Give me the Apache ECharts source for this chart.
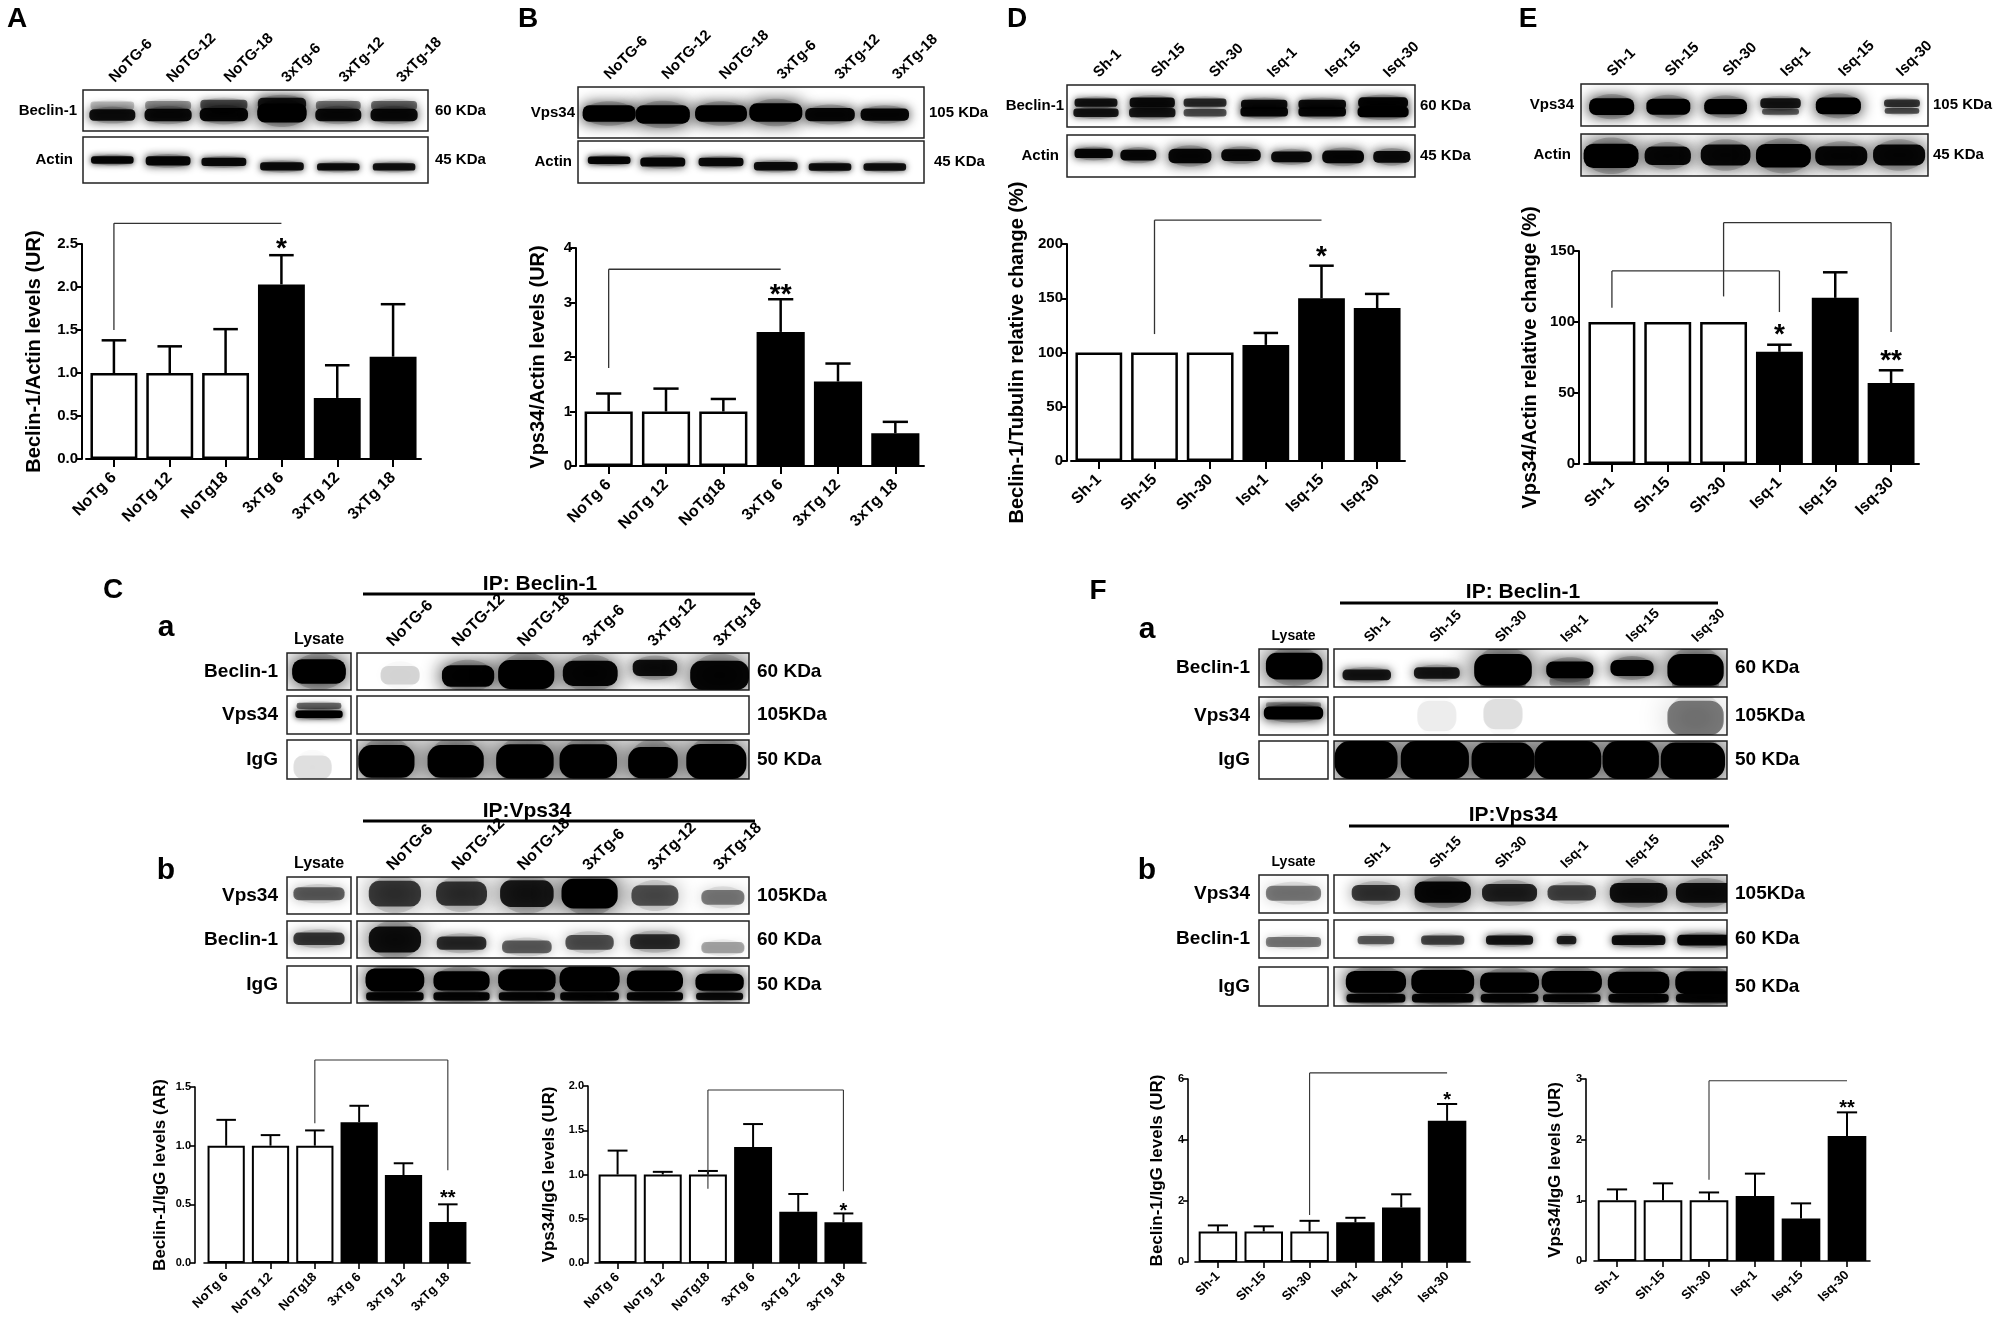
<!DOCTYPE html>
<html>
<head>
<meta charset="utf-8">
<title>Beclin-1 / Vps34</title>
<script src="https://cdn.jsdelivr.net/npm/echarts@6.0.0/dist/echarts.min.js"></script>
<style>
html, body { margin: 0; padding: 0; background: #fff; }
#main { width: 2000px; height: 1327px; }
</style>
</head>
<body>
<div id="main"></div>
<script>
var FONT = "'Liberation Sans', Arial, Helvetica, sans-serif";

// lane / category names
var tgLanes = ['NoTG-6', 'NoTG-12', 'NoTG-18', '3xTg-6', '3xTg-12', '3xTg-18'];
var tgCats = ['NoTg 6', 'NoTg 12', 'NoTg18', '3xTg 6', '3xTg 12', '3xTg 18'];
var isqLanes = ['Sh-1', 'Sh-15', 'Sh-30', 'Isq-1', 'Isq-15', 'Isq-30'];
var isqCats = ['Sh-1', 'Sh-15', 'Sh-30', 'Isq-1', 'Isq-15', 'Isq-30'];
var groupOf = [0, 0, 0, 1, 1, 1];   // 0 = control (white), 1 = treated (black)

// A  Beclin-1/Actin
var beclinActinMean = [1.00, 1.00, 1.00, 2.03, 0.71, 1.19];
var beclinActinSem  = [0.38, 0.31, 0.51, 0.34, 0.38, 0.61];
// B  Vps34/Actin
var vpsActinMean = [1.00, 1.00, 1.00, 2.46, 1.55, 0.60];
var vpsActinSem  = [0.33, 0.42, 0.23, 0.60, 0.33, 0.21];
// D  Beclin-1/Tubulin (%)
var beclinTubMean = [100, 100, 100, 107, 150, 141];
var beclinTubSem  = [0, 0, 0, 11, 30, 13];
// E  Vps34/Actin (%)
var vpsActinPctMean = [100, 100, 100, 79, 117, 57];
var vpsActinPctSem  = [0, 0, 0, 5, 18, 9];
// C bottom
var beclinIgGTgMean = [1.00, 1.00, 1.00, 1.20, 0.75, 0.35];
var beclinIgGTgSem  = [0.22, 0.09, 0.13, 0.14, 0.10, 0.15];
var vpsIgGTgMean = [1.00, 1.00, 1.00, 1.31, 0.58, 0.46];
var vpsIgGTgSem  = [0.27, 0.03, 0.04, 0.26, 0.20, 0.10];
// F bottom
var beclinIgGIsqMean = [1.00, 1.00, 1.00, 1.30, 1.79, 4.63];
var beclinIgGIsqSem  = [0.20, 0.17, 0.35, 0.15, 0.43, 0.55];
var vpsIgGIsqMean = [1.00, 1.00, 1.00, 1.07, 0.70, 2.06];
var vpsIgGIsqSem  = [0.18, 0.28, 0.13, 0.37, 0.25, 0.39];

// y axis ticks: [min, max, interval]
var axisA = [0, 2.5, 0.5], axisB = [0, 4, 1], axisD = [0, 200, 50], axisE = [0, 150, 50];
var axisCl = [0, 1.5, 0.5], axisCr = [0, 2, 0.5], axisFl = [0, 6, 2], axisFr = [0, 3, 1];

// significance brackets: [fromCat, toCat, topValue, leftLegEnd, rightLegEnd (-1 = none)]
var bracketsA = [[0, 3, 2.74, 1.50, -1]];
var bracketsB = [[0, 3, 3.61, 1.80, -1]];
var bracketsD = [[1, 4, 222, 117, -1]];
var bracketsE = [[0, 3, 136, 110, 107], [2, 5, 170, 118, 93]];
var bracketsCl = [[2, 5, 1.73, 1.19, 0.79]];
var bracketsCr = [[2, 5, 1.955, 0.84, 0.81]];
var bracketsFl = [[2, 5, 6.2, 1.54, -1]];
var bracketsFr = [[2, 5, 2.97, 1.34, -1]];

// asterisks: [cat, value, count]
var starsA = [[3, 2.53, 1]];
var starsB = [[3, 3.28, 2]];
var starsD = [[4, 195, 1]];
var starsE = [[3, 96, 1], [5, 78, 2]];
var starsCl = [[5, 0.60, 2]];
var starsCr = [[5, 0.64, 1]];
var starsFl = [[5, 5.48, 1]];
var starsFr = [[5, 2.60, 2]];

// blot bands: [lane x (lane units), y (0 top .. 1 bottom), darkness, thickness, width]
var bandsA_beclin = [
  [0.51, 0.61, 0.90, 0.28, 0.80], [0.51, 0.38, 0.20, 0.20, 0.76],
  [1.48, 0.61, 0.92, 0.30, 0.82], [1.48, 0.38, 0.35, 0.22, 0.80],
  [2.45, 0.60, 0.95, 0.32, 0.84], [2.45, 0.36, 0.60, 0.24, 0.82],
  [3.46, 0.56, 1.00, 0.46, 0.86], [3.46, 0.34, 0.85, 0.30, 0.84],
  [4.44, 0.61, 0.92, 0.30, 0.80], [4.44, 0.38, 0.45, 0.22, 0.78],
  [5.41, 0.61, 0.92, 0.30, 0.82], [5.41, 0.38, 0.50, 0.22, 0.80]
];
var bandsA_actin = [
  [0.51, 0.50, 0.95, 0.16, 0.74], [1.48, 0.52, 0.95, 0.20, 0.78], [2.45, 0.54, 0.92, 0.18, 0.78],
  [3.46, 0.64, 0.90, 0.18, 0.76], [4.44, 0.65, 0.90, 0.16, 0.74], [5.41, 0.65, 0.88, 0.16, 0.74]
];
var bandsB_vps = [
  [0.54, 0.52, 1.00, 0.32, 0.92], [1.47, 0.54, 1.00, 0.36, 0.94], [2.48, 0.52, 1.00, 0.32, 0.90],
  [3.43, 0.50, 1.00, 0.36, 0.92], [4.37, 0.54, 0.95, 0.26, 0.86], [5.32, 0.54, 0.95, 0.24, 0.84]
];
var bandsB_actin = [
  [0.54, 0.46, 0.95, 0.18, 0.74], [1.47, 0.50, 0.95, 0.22, 0.78], [2.48, 0.50, 0.92, 0.20, 0.78],
  [3.43, 0.60, 0.90, 0.20, 0.76], [4.37, 0.62, 0.90, 0.18, 0.74], [5.32, 0.62, 0.88, 0.18, 0.74]
];
var bandsD_beclin = [
  [0.50, 0.42, 0.85, 0.20, 0.74], [0.50, 0.66, 0.85, 0.20, 0.78],
  [1.47, 0.42, 0.90, 0.24, 0.78], [1.47, 0.66, 0.85, 0.22, 0.80],
  [2.38, 0.42, 0.75, 0.20, 0.74], [2.38, 0.66, 0.60, 0.18, 0.74],
  [3.40, 0.46, 0.90, 0.22, 0.80], [3.40, 0.64, 0.95, 0.22, 0.82],
  [4.40, 0.46, 0.90, 0.22, 0.82], [4.40, 0.64, 0.95, 0.22, 0.82],
  [5.45, 0.42, 0.95, 0.26, 0.86], [5.45, 0.64, 1.00, 0.26, 0.88]
];
var bandsD_actin = [
  [0.46, 0.44, 0.95, 0.22, 0.66], [1.23, 0.48, 0.95, 0.26, 0.62], [2.12, 0.50, 0.95, 0.34, 0.74],
  [3.00, 0.48, 0.95, 0.28, 0.68], [3.87, 0.52, 0.92, 0.26, 0.70], [4.76, 0.52, 0.95, 0.30, 0.72],
  [5.60, 0.52, 0.92, 0.28, 0.64]
];
var bandsE_vps = [
  [0.53, 0.54, 1.00, 0.40, 0.78], [1.51, 0.54, 1.00, 0.38, 0.76], [2.50, 0.54, 1.00, 0.36, 0.74],
  [3.45, 0.46, 0.85, 0.24, 0.70], [3.45, 0.66, 0.55, 0.14, 0.64], [4.45, 0.52, 1.00, 0.40, 0.78],
  [5.55, 0.46, 0.70, 0.18, 0.62], [5.55, 0.64, 0.60, 0.14, 0.60]
];
var bandsE_actin = [
  [0.52, 0.52, 1.00, 0.58, 0.95], [1.50, 0.52, 0.95, 0.44, 0.80], [2.50, 0.50, 0.95, 0.50, 0.86],
  [3.50, 0.52, 1.00, 0.56, 0.95], [4.50, 0.52, 0.95, 0.46, 0.90], [5.50, 0.50, 0.95, 0.50, 0.90]
];
// C  co-IP (lysate lane + six lanes)
var bandsCa_lysBeclin = [[0.5, 0.50, 1.00, 0.66, 0.84]];
var bandsCa_beclin = [
  [0.66, 0.60, 0.14, 0.50, 0.60], [1.70, 0.62, 0.98, 0.58, 0.80], [2.59, 0.58, 1.00, 0.78, 0.86],
  [3.57, 0.55, 0.96, 0.68, 0.84], [4.56, 0.40, 0.90, 0.44, 0.68], [5.55, 0.60, 0.96, 0.78, 0.90]
];
var bandsCa_lysVps = [[0.5, 0.26, 0.50, 0.16, 0.70], [0.5, 0.48, 1.00, 0.20, 0.74]];
var bandsCa_vps = [];
var bandsCa_lysIgG = [[0.4, 0.70, 0.10, 0.60, 0.60]];
var bandsCa_igg = [
  [0.45, 0.55, 1.00, 0.84, 0.86], [1.51, 0.55, 1.00, 0.84, 0.86], [2.57, 0.55, 1.00, 0.88, 0.88],
  [3.54, 0.55, 1.00, 0.88, 0.88], [4.53, 0.58, 1.00, 0.80, 0.76], [5.50, 0.55, 1.00, 0.90, 0.92]
];
var bandsCb_lysVps = [[0.5, 0.45, 0.55, 0.35, 0.80]];
var bandsCb_vps = [
  [0.58, 0.45, 0.70, 0.70, 0.80], [1.60, 0.45, 0.72, 0.66, 0.78], [2.60, 0.45, 0.85, 0.72, 0.82],
  [3.56, 0.45, 1.00, 0.80, 0.86], [4.56, 0.50, 0.60, 0.56, 0.72], [5.60, 0.55, 0.45, 0.40, 0.66]
];
var bandsCb_lysBeclin = [[0.5, 0.48, 0.70, 0.34, 0.80]];
var bandsCb_beclin = [
  [0.58, 0.50, 0.90, 0.70, 0.80], [1.60, 0.60, 0.75, 0.36, 0.76], [2.60, 0.70, 0.55, 0.34, 0.76],
  [3.56, 0.58, 0.60, 0.40, 0.74], [4.56, 0.56, 0.75, 0.40, 0.76], [5.60, 0.72, 0.30, 0.30, 0.66]
];
var bandsCb_lysIgG = [];
var bandsCb_igg = [
  [0.58, 0.38, 1.00, 0.62, 0.90], [0.58, 0.82, 0.95, 0.22, 0.88],
  [1.60, 0.40, 1.00, 0.52, 0.86], [1.60, 0.82, 0.95, 0.22, 0.86],
  [2.60, 0.38, 1.00, 0.58, 0.88], [2.60, 0.82, 0.95, 0.22, 0.86],
  [3.56, 0.36, 1.00, 0.66, 0.92], [3.56, 0.82, 0.95, 0.22, 0.90],
  [4.56, 0.40, 1.00, 0.56, 0.86], [4.56, 0.82, 0.95, 0.22, 0.86],
  [5.55, 0.44, 1.00, 0.46, 0.74], [5.55, 0.82, 0.90, 0.20, 0.72]
];
// F  co-IP
var bandsFa_lysBeclin = [[0.51, 0.45, 1.00, 0.70, 0.82]];
var bandsFa_beclin = [
  [0.50, 0.68, 0.85, 0.28, 0.74], [1.57, 0.63, 0.85, 0.30, 0.70], [2.58, 0.55, 1.00, 0.84, 0.88],
  [3.60, 0.55, 1.00, 0.44, 0.72], [4.55, 0.50, 1.00, 0.42, 0.66], [5.52, 0.55, 1.00, 0.84, 0.86],
  [2.58, 0.90, 0.35, 0.20, 0.70], [3.60, 0.86, 0.30, 0.22, 0.62], [5.52, 0.90, 0.35, 0.20, 0.72]
];
var bandsFa_lysVps = [[0.5, 0.22, 0.30, 0.16, 0.80], [0.5, 0.42, 1.00, 0.34, 0.86]];
var bandsFa_vps = [[1.57, 0.50, 0.06, 0.80, 0.60], [2.58, 0.45, 0.10, 0.80, 0.60], [5.52, 0.55, 0.45, 0.90, 0.86]];
var bandsFa_lysIgG = [];
var bandsFa_igg = [
  [0.49, 0.50, 1.00, 1.00, 0.96], [1.54, 0.50, 1.00, 1.00, 1.04], [2.58, 0.52, 1.00, 0.96, 0.96],
  [3.57, 0.50, 1.00, 1.00, 1.02], [4.53, 0.50, 1.00, 1.00, 0.86], [5.48, 0.52, 1.00, 0.96, 0.98]
];
var bandsFb_lysVps = [[0.5, 0.48, 0.45, 0.40, 0.80]];
var bandsFb_vps = [
  [0.64, 0.47, 0.70, 0.42, 0.74], [1.66, 0.45, 0.95, 0.56, 0.86], [2.68, 0.47, 0.80, 0.46, 0.84],
  [3.63, 0.47, 0.65, 0.40, 0.74], [4.65, 0.47, 0.90, 0.52, 0.88], [5.66, 0.47, 0.90, 0.52, 0.88]
];
var bandsFb_lysBeclin = [[0.5, 0.58, 0.45, 0.26, 0.80]];
var bandsFb_beclin = [
  [0.64, 0.53, 0.55, 0.22, 0.56], [1.66, 0.53, 0.65, 0.24, 0.66], [2.68, 0.53, 0.85, 0.24, 0.72],
  [3.55, 0.53, 0.80, 0.22, 0.30], [4.65, 0.53, 0.90, 0.26, 0.82], [5.66, 0.53, 0.95, 0.28, 0.84]
];
var bandsFb_lysIgG = [];
var bandsFb_igg = [
  [0.64, 0.38, 1.00, 0.56, 0.92], [0.64, 0.80, 0.95, 0.22, 0.90],
  [1.66, 0.38, 1.00, 0.60, 0.96], [1.66, 0.80, 0.95, 0.22, 0.94],
  [2.68, 0.40, 1.00, 0.52, 0.90], [2.68, 0.80, 0.95, 0.22, 0.88],
  [3.63, 0.38, 1.00, 0.56, 0.92], [3.63, 0.80, 0.95, 0.20, 0.88],
  [4.65, 0.40, 1.00, 0.56, 0.94], [4.65, 0.80, 0.95, 0.22, 0.92],
  [5.66, 0.40, 1.00, 0.58, 0.90], [5.66, 0.80, 0.95, 0.22, 0.88]
];

var option = { animation: false, backgroundColor: '#fff', grid: [], xAxis: [], yAxis: [], series: [], graphic: [] };

function txt(size) {
  return { fontFamily: FONT, fontWeight: 'bold', fontSize: size, color: '#000' };
}
function merge(a, b) { for (var k in b) a[k] = b[k]; return a; }

var BIG = { axisW: 2, tickW: 2, xTick: 8, yTick: 6, barBorder: 2.5, errW: 2.5, bracketW: 1.3,
            tickFont: 15, catFont: 16, nameFont: 20, starFont: 28, xMargin: 16 };
var SMALL = { axisW: 1.6, tickW: 1.6, xTick: 6, yTick: 5, barBorder: 2, errW: 2, bracketW: 1.1,
              tickFont: 11, catFont: 13, nameFont: 17, starFont: 20, xMargin: 12 };

// vertical error bar (upper half) with cap
function errRenderer(lw) {
  return function (params, api) {
    var e = api.value(2);
    if (!(e > 0)) return null;
    var p0 = api.coord([api.value(0), api.value(1)]);
    var p1 = api.coord([api.value(0), api.value(1) + e]);
    var half = api.size([1, 0])[0] * 0.22;
    var st = { stroke: '#000', lineWidth: lw };
    return { type: 'group', children: [
      { type: 'line', shape: { x1: p0[0], y1: p0[1], x2: p1[0], y2: p1[1] }, style: st },
      { type: 'line', shape: { x1: p1[0] - half, y1: p1[1], x2: p1[0] + half, y2: p1[1] }, style: st }
    ] };
  };
}
function bracketRenderer(lw) {
  return function (params, api) {
    var x1 = api.value(0), x2 = api.value(1), top = api.value(2);
    var lb = api.value(3), rb = api.value(4);
    var a = api.coord([x1, top]), b = api.coord([x2, top]);
    var st = { stroke: '#333', lineWidth: lw };
    var kids = [{ type: 'line', shape: { x1: a[0], y1: a[1], x2: b[0], y2: b[1] }, style: st }];
    if (lb >= 0) {
      var c = api.coord([x1, lb]);
      kids.push({ type: 'line', shape: { x1: a[0], y1: a[1], x2: c[0], y2: c[1] }, style: st });
    }
    if (rb >= 0) {
      var d = api.coord([x2, rb]);
      kids.push({ type: 'line', shape: { x1: b[0], y1: b[1], x2: d[0], y2: d[1] }, style: st });
    }
    return { type: 'group', children: kids };
  };
}
function starRenderer(size) {
  return function (params, api) {
    var p = api.coord([api.value(0), api.value(1)]);
    var n = api.value(2);
    return { type: 'text', x: p[0], y: p[1] + size * 0.27,
      style: { text: n > 1 ? '**' : '*', fill: '#000', font: 'bold ' + size + 'px ' + FONT,
               align: 'center', verticalAlign: 'middle' } };
  };
}
// a blurred western-blot band: soft halo plus denser core
function renderBand(params, api) {
  var c = api.coord([api.value(0), api.value(1)]);
  var w = api.size([api.value(4), 0])[0];
  var h = api.size([0, api.value(3)])[1];
  var k = api.value(2);
  var core = 'rgba(0,0,0,' + k + ')';
  var halo = 'rgba(0,0,0,' + (k * 0.18).toFixed(3) + ')';
  var hw = w * 0.98, hh = h * 1.5;
  return { type: 'group', children: [
    { type: 'ellipse', shape: { cx: c[0], cy: c[1], rx: hw / 2, ry: hh / 2 },
      style: { fill: halo, shadowBlur: Math.max(10, hh * 1.2), shadowColor: halo } },
    { type: 'rect', shape: { x: c[0] - w / 2, y: c[1] - h / 2, width: w, height: h, r: Math.min(w, h) / 2.5 },
      style: { fill: core, shadowBlur: Math.max(6, h * 0.9), shadowColor: core } }
  ] };
}

function addBarChart(c) {
  var s = c.small ? SMALL : BIG;
  var gi = option.grid.length, xi = option.xAxis.length, yi = option.yAxis.length;
  option.grid.push({ left: c.left, top: c.top, width: c.width, height: c.height, outerBoundsMode: 'none' });
  option.xAxis.push({
    type: 'category', gridIndex: gi, data: c.cats,
    axisLine: { show: true, lineStyle: { color: '#000', width: s.axisW } },
    axisTick: { show: true, alignWithLabel: true, length: s.xTick, lineStyle: { color: '#000', width: s.tickW } },
    axisLabel: merge({ interval: 0, rotate: 45, margin: s.xMargin }, txt(s.catFont)),
    splitLine: { show: false }
  });
  option.yAxis.push({
    type: 'value', gridIndex: gi, min: c.axis[0], max: c.axis[1], interval: c.axis[2], offset: c.offset,
    name: c.title, nameLocation: 'middle', nameGap: c.nameGap, nameTextStyle: txt(s.nameFont),
    axisLine: { show: true, lineStyle: { color: '#000', width: s.axisW } },
    axisTick: { show: true, length: s.yTick, lineStyle: { color: '#000', width: s.tickW } },
    axisLabel: merge({ margin: 4, formatter: function (v) { return v.toFixed(c.decimals); } }, txt(s.tickFont)),
    splitLine: { show: false }
  });
  option.series.push({
    type: 'bar', xAxisIndex: xi, yAxisIndex: yi, barCategoryGap: '16%', z: 2,
    data: c.mean.map(function (v, i) {
      return { value: v, itemStyle: { color: groupOf[i] ? '#000' : '#fff', borderColor: '#000', borderWidth: s.barBorder } };
    })
  });
  option.series.push({
    type: 'custom', xAxisIndex: xi, yAxisIndex: yi, z: 3, clip: false, renderItem: errRenderer(s.errW),
    data: c.mean.map(function (v, i) { return [i, v, c.sem[i]]; })
  });
  option.series.push({
    type: 'custom', xAxisIndex: xi, yAxisIndex: yi, z: 4, clip: false, encode: { x: 0, y: 2 },
    renderItem: bracketRenderer(s.bracketW), data: c.brackets
  });
  option.series.push({
    type: 'custom', xAxisIndex: xi, yAxisIndex: yi, z: 4, clip: false,
    renderItem: starRenderer(s.starFont), data: c.stars
  });
}

function addBlot(b) {
  var gi = option.grid.length, xi = option.xAxis.length, yi = option.yAxis.length;
  option.grid.push({ left: b.left, top: b.top, width: b.width, height: b.height, show: true,
    backgroundColor: '#fff', borderColor: '#222', borderWidth: 1.5, outerBoundsMode: 'none' });
  option.xAxis.push({ type: 'value', gridIndex: gi, min: 0, max: b.lanes, show: false });
  if (b.laneLabels) {
    option.xAxis.push({ type: 'category', gridIndex: gi, position: 'top', data: b.laneLabels,
      axisLine: { show: false }, axisTick: { show: false }, splitLine: { show: false },
      axisLabel: merge({ interval: 0, rotate: b.rotate || 0, margin: b.margin }, txt(b.laneFont)) });
  }
  option.yAxis.push({ type: 'value', gridIndex: gi, min: 0, max: 1, inverse: true, position: 'left',
    axisLine: { show: false }, axisTick: { show: false }, axisLabel: { show: false }, splitLine: { show: false },
    name: b.label || '', nameLocation: 'middle', nameRotate: 0, nameGap: b.labelGap || 6,
    nameTextStyle: merge({ align: 'right', verticalAlign: 'middle' }, txt(b.labelFont || 15)) });
  if (b.kda) {
    option.yAxis.push({ type: 'value', gridIndex: gi, min: 0, max: 1, position: 'right',
      axisLine: { show: false }, axisTick: { show: false }, axisLabel: { show: false }, splitLine: { show: false },
      name: b.kda, nameLocation: 'middle', nameRotate: 0, nameGap: b.kdaGap || 6,
      nameTextStyle: merge({ align: 'left', verticalAlign: 'middle' }, txt(b.kdaFont || 15)) });
  }
  option.series.push({ type: 'custom', xAxisIndex: xi, yAxisIndex: yi, clip: true, silent: true,
    renderItem: renderBand, data: b.bands });
}

function label(text, x, y, size) {
  option.graphic.push({ type: 'text', x: x, y: y,
    style: { text: text, fill: '#000', font: 'bold ' + size + 'px ' + FONT, align: 'center', verticalAlign: 'middle' } });
}
function rule(x1, x2, y, w) {
  option.graphic.push({ type: 'line', shape: { x1: x1, y1: y, x2: x2, y2: y }, style: { stroke: '#000', lineWidth: w } });
}

// ---------- top row: A, B, D, E ----------
addBlot({ left: 83, top: 90, width: 345, height: 41, lanes: 6, bands: bandsA_beclin, label: 'Beclin-1', labelGap: 6,
  kda: '60 KDa', kdaGap: 7, laneLabels: tgLanes, rotate: 45, margin: 10, laneFont: 15 });
addBlot({ left: 83, top: 137, width: 345, height: 46, lanes: 6, bands: bandsA_actin, label: 'Actin', labelGap: 10, kda: '45 KDa', kdaGap: 7 });
addBlot({ left: 578, top: 87, width: 346, height: 51, lanes: 6, bands: bandsB_vps, label: 'Vps34', labelGap: 3,
  kda: '105 KDa', kdaGap: 5, laneLabels: tgLanes, rotate: 45, margin: 10, laneFont: 15 });
addBlot({ left: 578, top: 141, width: 346, height: 42, lanes: 6, bands: bandsB_actin, label: 'Actin', labelGap: 6, kda: '45 KDa', kdaGap: 10 });
addBlot({ left: 1067, top: 85, width: 348, height: 42, lanes: 6, bands: bandsD_beclin, label: 'Beclin-1', labelGap: 3,
  kda: '60 KDa', kdaGap: 5, laneLabels: isqLanes, rotate: 45, margin: 10, laneFont: 15 });
addBlot({ left: 1067, top: 135, width: 348, height: 42, lanes: 6, bands: bandsD_actin, label: 'Actin', labelGap: 8, kda: '45 KDa', kdaGap: 5 });
addBlot({ left: 1581, top: 84, width: 347, height: 42, lanes: 6, bands: bandsE_vps, label: 'Vps34', labelGap: 7,
  kda: '105 KDa', kdaGap: 5, laneLabels: isqLanes, rotate: 45, margin: 10, laneFont: 15 });
addBlot({ left: 1581, top: 134, width: 347, height: 42, lanes: 6, bands: bandsE_actin, label: 'Actin', labelGap: 10, kda: '45 KDa', kdaGap: 5 });

addBarChart({ left: 86, top: 244, width: 335, height: 215, offset: 4, cats: tgCats, mean: beclinActinMean, sem: beclinActinSem,
  axis: axisA, decimals: 1, title: 'Beclin-1/Actin levels (UR)', nameGap: 38, brackets: bracketsA, stars: starsA });
addBarChart({ left: 580, top: 248, width: 344, height: 218, offset: 4, cats: tgCats, mean: vpsActinMean, sem: vpsActinSem,
  axis: axisB, decimals: 0, title: 'Vps34/Actin levels (UR)', nameGap: 28, brackets: bracketsB, stars: starsB });
addBarChart({ left: 1071, top: 244, width: 334, height: 217, offset: 4, cats: isqCats, mean: beclinTubMean, sem: beclinTubSem,
  axis: axisD, decimals: 0, title: 'Beclin-1/Tubulin relative change (%)', nameGap: 40, brackets: bracketsD, stars: starsD });
addBarChart({ left: 1584, top: 251, width: 335, height: 213, offset: 5, cats: isqCats, mean: vpsActinPctMean, sem: vpsActinPctSem,
  axis: axisE, decimals: 0, title: 'Vps34/Actin relative change (%)', nameGap: 39, brackets: bracketsE, stars: starsE });

// ---------- C ----------
addBlot({ left: 287, top: 653, width: 64, height: 37, lanes: 1, bands: bandsCa_lysBeclin, label: 'Beclin-1', labelGap: 9, labelFont: 19,
  laneLabels: ['Lysate'], margin: 5, laneFont: 16 });
addBlot({ left: 357, top: 653, width: 392, height: 37, lanes: 6, bands: bandsCa_beclin, kda: '60 KDa', kdaGap: 8, kdaFont: 19,
  laneLabels: tgLanes, rotate: 45, margin: 9, laneFont: 16 });
addBlot({ left: 287, top: 696, width: 64, height: 38, lanes: 1, bands: bandsCa_lysVps, label: 'Vps34', labelGap: 9, labelFont: 19 });
addBlot({ left: 357, top: 696, width: 392, height: 38, lanes: 6, bands: bandsCa_vps, kda: '105KDa', kdaGap: 8, kdaFont: 19 });
addBlot({ left: 287, top: 740, width: 64, height: 39, lanes: 1, bands: bandsCa_lysIgG, label: 'IgG', labelGap: 9, labelFont: 19 });
addBlot({ left: 357, top: 740, width: 392, height: 39, lanes: 6, bands: bandsCa_igg, kda: '50 KDa', kdaGap: 8, kdaFont: 19 });

addBlot({ left: 287, top: 877, width: 64, height: 37, lanes: 1, bands: bandsCb_lysVps, label: 'Vps34', labelGap: 9, labelFont: 19,
  laneLabels: ['Lysate'], margin: 5, laneFont: 16 });
addBlot({ left: 357, top: 877, width: 392, height: 37, lanes: 6, bands: bandsCb_vps, kda: '105KDa', kdaGap: 8, kdaFont: 19,
  laneLabels: tgLanes, rotate: 45, margin: 9, laneFont: 16 });
addBlot({ left: 287, top: 921, width: 64, height: 37, lanes: 1, bands: bandsCb_lysBeclin, label: 'Beclin-1', labelGap: 9, labelFont: 19 });
addBlot({ left: 357, top: 921, width: 392, height: 37, lanes: 6, bands: bandsCb_beclin, kda: '60 KDa', kdaGap: 8, kdaFont: 19 });
addBlot({ left: 287, top: 966, width: 64, height: 37, lanes: 1, bands: bandsCb_lysIgG, label: 'IgG', labelGap: 9, labelFont: 19 });
addBlot({ left: 357, top: 966, width: 392, height: 37, lanes: 6, bands: bandsCb_igg, kda: '50 KDa', kdaGap: 8, kdaFont: 19 });

addBarChart({ small: true, left: 204, top: 1087, width: 266, height: 176, offset: 9, cats: tgCats, mean: beclinIgGTgMean, sem: beclinIgGTgSem,
  axis: axisCl, decimals: 1, title: 'Beclin-1/IgG levels (AR)', nameGap: 26, brackets: bracketsCl, stars: starsCl });
addBarChart({ small: true, left: 595, top: 1086, width: 271, height: 177, offset: 7, cats: tgCats, mean: vpsIgGTgMean, sem: vpsIgGTgSem,
  axis: axisCr, decimals: 1, title: 'Vps34/IgG levels (UR)', nameGap: 30, brackets: bracketsCr, stars: starsCr });

// ---------- F ----------
addBlot({ left: 1259, top: 649, width: 69, height: 38, lanes: 1, bands: bandsFa_lysBeclin, label: 'Beclin-1', labelGap: 9, labelFont: 19,
  laneLabels: ['Lysate'], margin: 6, laneFont: 14 });
addBlot({ left: 1334, top: 649, width: 393, height: 38, lanes: 6, bands: bandsFa_beclin, kda: '60 KDa', kdaGap: 8, kdaFont: 19,
  laneLabels: isqLanes, rotate: 45, margin: 9, laneFont: 14 });
addBlot({ left: 1259, top: 697, width: 69, height: 38, lanes: 1, bands: bandsFa_lysVps, label: 'Vps34', labelGap: 9, labelFont: 19 });
addBlot({ left: 1334, top: 697, width: 393, height: 38, lanes: 6, bands: bandsFa_vps, kda: '105KDa', kdaGap: 8, kdaFont: 19 });
addBlot({ left: 1259, top: 741, width: 69, height: 38, lanes: 1, bands: bandsFa_lysIgG, label: 'IgG', labelGap: 9, labelFont: 19 });
addBlot({ left: 1334, top: 741, width: 393, height: 38, lanes: 6, bands: bandsFa_igg, kda: '50 KDa', kdaGap: 8, kdaFont: 19 });

addBlot({ left: 1259, top: 875, width: 69, height: 38, lanes: 1, bands: bandsFb_lysVps, label: 'Vps34', labelGap: 9, labelFont: 19,
  laneLabels: ['Lysate'], margin: 6, laneFont: 14 });
addBlot({ left: 1334, top: 875, width: 393, height: 38, lanes: 6, bands: bandsFb_vps, kda: '105KDa', kdaGap: 8, kdaFont: 19,
  laneLabels: isqLanes, rotate: 45, margin: 9, laneFont: 14 });
addBlot({ left: 1259, top: 920, width: 69, height: 38, lanes: 1, bands: bandsFb_lysBeclin, label: 'Beclin-1', labelGap: 9, labelFont: 19 });
addBlot({ left: 1334, top: 920, width: 393, height: 38, lanes: 6, bands: bandsFb_beclin, kda: '60 KDa', kdaGap: 8, kdaFont: 19 });
addBlot({ left: 1259, top: 967, width: 69, height: 39, lanes: 1, bands: bandsFb_lysIgG, label: 'IgG', labelGap: 9, labelFont: 19 });
addBlot({ left: 1334, top: 967, width: 393, height: 39, lanes: 6, bands: bandsFb_igg, kda: '50 KDa', kdaGap: 8, kdaFont: 19 });

addBarChart({ small: true, left: 1195, top: 1079, width: 275, height: 183, offset: 7, cats: isqCats, mean: beclinIgGIsqMean, sem: beclinIgGIsqSem,
  axis: axisFl, decimals: 0, title: 'Beclin-1/IgG levels (UR)', nameGap: 22, brackets: bracketsFl, stars: starsFl });
addBarChart({ small: true, left: 1594, top: 1079, width: 276, height: 182, offset: 8, cats: isqCats, mean: vpsIgGIsqMean, sem: vpsIgGIsqSem,
  axis: axisFr, decimals: 0, title: 'Vps34/IgG levels (UR)', nameGap: 22, brackets: bracketsFr, stars: starsFr });

// ---------- panel letters and IP headers ----------
label('A', 17, 19, 28); label('B', 528, 19, 28); label('D', 1017, 19, 28); label('E', 1528, 19, 28);
label('C', 113, 590, 28); label('F', 1098, 591, 28);
label('a', 166, 628, 30); label('b', 166, 871, 30);
label('a', 1147, 630, 30); label('b', 1147, 871, 30);
label('IP: Beclin-1', 540, 584, 21); rule(363, 755, 594, 3);
label('IP:Vps34', 527, 811, 21); rule(363, 755, 821, 3);
label('IP: Beclin-1', 1523, 592, 21); rule(1340, 1718, 603, 3);
label('IP:Vps34', 1513, 815, 21); rule(1349, 1729, 826, 3);

var chart = echarts.init(document.getElementById('main'));
chart.setOption(option);
</script>
</body>
</html>
